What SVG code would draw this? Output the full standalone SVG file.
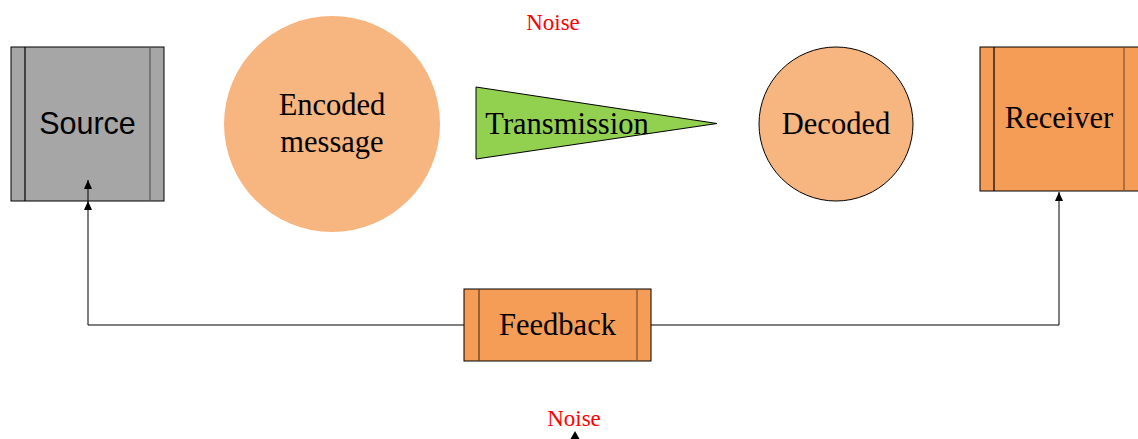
<svg xmlns="http://www.w3.org/2000/svg" width="1138" height="439" viewBox="0 0 1138 439">
<defs>
<marker id="arr" markerWidth="10" markerHeight="10" refX="9" refY="5" orient="auto" markerUnits="userSpaceOnUse">
<path d="M0,1 L9,5 L0,9 Z" fill="#000"/>
</marker>
<style>
.serif{font-family:"Liberation Serif","Times New Roman",serif;font-size:30.5px;fill:#000;text-anchor:middle}
.noise{font-family:"Liberation Serif","Times New Roman",serif;font-size:23px;fill:#FF0000;text-anchor:middle}
.sans{font-family:"Liberation Sans",Arial,sans-serif;font-size:30.5px;fill:#000;text-anchor:middle}
.box{stroke:#000;stroke-width:1}
.inner{stroke-width:1.2}
.conn{fill:none;stroke:#000;stroke-width:1}
</style>
</defs>
<g id="source">
<rect class="box" x="11" y="47" width="153" height="154" fill="#A6A6A6"/>
<line class="inner" x1="25" y1="47" x2="25" y2="201" stroke="#000"/>
<line class="inner" x1="150" y1="47" x2="150" y2="201" stroke="#595959"/>
<text class="sans" x="87.5" y="134">Source</text>
</g>
<g id="encoded">
<circle cx="332" cy="124" r="108" fill="#F7B57F"/>
<text class="serif" x="332" y="115">Encoded</text>
<text class="serif" x="332" y="152">message</text>
</g>
<g id="transmission">
<polygon points="476,87 717,123.5 476,159" fill="#92D050" stroke="#000" stroke-width="1"/>
<text class="serif" x="567" y="134">Transmission</text>
</g>
<g id="decoded">
<circle cx="836" cy="124" r="77" fill="#F7B57F" stroke="#000" stroke-width="1"/>
<text class="serif" x="836" y="134">Decoded</text>
</g>
<g id="receiver">
<rect class="box" x="980" y="47" width="170" height="144" fill="#F59D56"/>
<line class="inner" x1="994" y1="47" x2="994" y2="191" stroke="#000"/>
<line class="inner" x1="1124" y1="47" x2="1124" y2="191" stroke="#7F5030"/>
<text class="serif" x="1059" y="128">Receiver</text>
</g>
<g id="feedback">
<rect class="box" x="464" y="289" width="187" height="72" fill="#F59D56"/>
<line class="inner" x1="479" y1="289" x2="479" y2="361" stroke="#5A3A20"/>
<line class="inner" x1="637" y1="289" x2="637" y2="361" stroke="#7F5030"/>
<text class="serif" x="557.5" y="335">Feedback</text>
</g>
<g id="noise-top">
<text class="noise" x="553" y="30">Noise</text>
</g>
<g id="noise-bottom">
<text class="noise" x="574" y="426">Noise</text>
</g>
<g id="connectors">
<path class="conn" d="M464,325 H88 V201" marker-end="url(#arr)"/>
<path class="conn" d="M88,201 V180" marker-end="url(#arr)"/>
<path class="conn" d="M651,325 H1059 V192" marker-end="url(#arr)"/>
<path d="M570.5,439 L575,431 L579.5,439 Z" fill="#000"/>
</g>
</svg>
